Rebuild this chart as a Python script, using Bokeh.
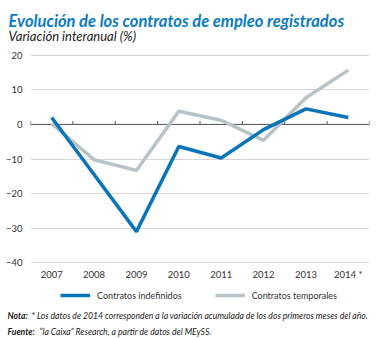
from bokeh.plotting import figure
from bokeh.models import Range1d, FixedTicker, Label, Legend, LegendItem
from bokeh.layouts import column
from bokeh.embed import file_html
from bokeh.resources import INLINE

years = ["2007", "2008", "2009", "2010", "2011", "2012", "2013", "2014 *"]
indefinidos = [2.0, -14.5, -31.0, -6.4, -9.7, -1.5, 4.5, 2.0]
temporales = [0.2, -10.2, -13.3, 3.8, 1.2, -4.6, 7.7, 15.7]
y_ticks = [-40, -30, -20, -10, 0, 10, 20]

title_text = "Evolución de los contratos de empleo registrados"
subtitle_text = "Variación interanual (%)"
series_names = ["Contratos indefinidos", "Contratos temporales"]
nota_head = "Nota:"
nota_text = "* Los datos de 2014 corresponden a la variación acumulada de los dos primeros meses del año."
fuente_head = "Fuente:"
fuente_text = "\u201cla Caixa\u201d Research, a partir de datos del MEySS."

FONT = "Lato"
BLUE = "#0a74bb"
GREY = "#b8c3c7"
TXT = "#333333"
W = 382
NAN = float("nan")


def text_fig(y0, y1):
    f = figure(width=W, height=y1 - y0, output_backend="svg", toolbar_location=None,
               title=None,
               x_range=Range1d(0, W), y_range=Range1d(start=y1, end=y0),
               x_axis_location=None, y_axis_location=None,
               min_border=0, min_border_left=0, min_border_right=0,
               min_border_top=0, min_border_bottom=0,
               background_fill_color="white", border_fill_color="white")
    f.frame_align = False
    f.outline_line_color = None
    f.xgrid.visible = False
    f.ygrid.visible = False
    return f


def lab(f, text, xc, yc, size, style="normal", color="#222222"):
    f.add_layout(Label(x=xc, y=yc, text=text, text_font=FONT, text_font_size=size,
                       text_font_style=style, text_color=color,
                       text_baseline="alphabetic", text_align="left"))


# ---------- header ----------
top = text_fig(0, 45)
lab(top, title_text, 8, 20, "16.5px", "bold italic", "#0a7bc4")
lab(top, subtitle_text, 8, 35, "13px", "italic")

# ---------- main chart ----------
xs = list(range(len(years)))
p = figure(width=W, height=239, output_backend="svg", toolbar_location=None, title=None,
           x_range=Range1d(-0.5, len(years) - 0.5), y_range=Range1d(-40.5, 20.5),
           min_border_left=30, min_border_right=13, min_border_top=8, min_border_bottom=20,
           background_fill_color="white", border_fill_color="white")
p.frame_align = False
p.outline_line_color = None

for ax in (p.xaxis, p.yaxis):
    ax.axis_line_color = None
    ax.major_tick_line_color = None
    ax.minor_tick_line_color = None
    ax.major_tick_out = 0
    ax.major_tick_in = 0
    ax.minor_tick_out = 0
    ax.minor_tick_in = 0
    ax.major_label_text_font = FONT
    ax.major_label_text_font_size = "9.5px"
    ax.major_label_text_color = TXT

p.yaxis.ticker = FixedTicker(ticks=y_ticks)
p.yaxis.major_label_standoff = 8
p.xaxis.ticker = FixedTicker(ticks=xs)
p.xaxis.major_label_overrides = {i: y for i, y in zip(xs, years)}
p.xaxis.major_label_standoff = 4

p.xgrid.grid_line_color = None
p.ygrid.ticker = FixedTicker(ticks=y_ticks)
p.ygrid.grid_line_color = "#d6d6d6"
p.ygrid.grid_line_width = 1

bounds = [i - 0.5 for i in range(len(years) + 1)]
p.segment(x0=[-0.5], y0=[0], x1=[len(years) - 0.5], y1=[0], line_color="#555555", line_width=1)
p.segment(x0=bounds, y0=[0] * len(bounds), x1=bounds, y1=[1.0] * len(bounds),
          line_color="#555555", line_width=1)

p.line(xs, temporales, line_color=GREY, line_width=3.5)
p.line(xs, indefinidos, line_color=BLUE, line_width=3.5)

# ---------- footer: legend + notes ----------
bot = text_fig(284, 338)
k_i = bot.line(x=[NAN], y=[NAN], line_color=BLUE, line_width=3.5)
k_t = bot.line(x=[NAN], y=[NAN], line_color=GREY, line_width=3.5)
legend = Legend(items=[LegendItem(label=series_names[0], renderers=[k_i]),
                       LegendItem(label=series_names[1], renderers=[k_t])],
                location=(60, 37), orientation="horizontal",
                glyph_width=30, glyph_height=12, label_height=12, label_standoff=7, spacing=33,
                padding=0, margin=0, border_line_color=None, background_fill_alpha=0,
                label_text_font=FONT, label_text_font_size="9px", label_text_color=TXT)
bot.add_layout(legend, "center")

lab(bot, nota_head, 7, 315, "8.6px", "bold italic")
lab(bot, nota_text, 31, 315, "8.6px", "italic")
lab(bot, fuente_head, 7, 331, "8.6px", "bold italic")
lab(bot, fuente_text, 39, 331, "8.6px", "italic")

layout = column(top, p, bot, spacing=0)
open("out.html", "w").write(file_html(layout, INLINE))
